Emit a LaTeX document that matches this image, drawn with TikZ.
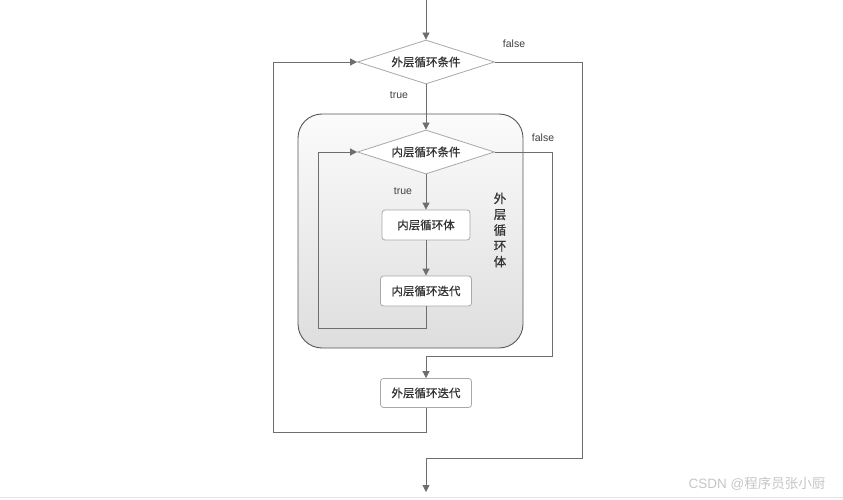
\documentclass[tikz,border=0pt]{standalone}
\usepackage{fontspec}
\setmainfont{Liberation Sans}
\newfontfamily\cjk[FakeBold=0.6]{Noto Sans CJK SC}
\newfontfamily\cjkthin{Noto Sans CJK SC}
\usetikzlibrary{shapes.geometric,arrows.meta}
\definecolor{linegray}{HTML}{6E6E6E}
\definecolor{boxgray}{HTML}{A8A8A8}
\begin{document}
\begin{tikzpicture}[x=1pt,y=-1pt,
  line/.style={draw=linegray, line width=0.8pt},
  arr/.style={line, -{Triangle[length=7pt,width=7pt]}},
  cond/.style={diamond, draw=boxgray, line width=0.8pt, fill=white, minimum width=137pt, minimum height=44pt, inner sep=0pt, aspect=3, font=\cjk\fontsize{11.5}{13}\selectfont, text=black!80},
  proc/.style={rectangle, rounded corners=3pt, draw=boxgray, line width=0.8pt, fill=white, minimum height=30pt, inner sep=0pt, font=\cjk\fontsize{11.5}{13}\selectfont, text=black!80},
  lbl/.style={font=\fontsize{10.5}{12}\selectfont, text=black!75}]
\useasboundingbox (0,0) rectangle (843,500);
\fill[white] (0,0) rectangle (843,500);

% outer loop body container
\draw[draw=linegray!80!black, line width=0.9pt, rounded corners=24pt, top color=gray!3, bottom color=gray!26] (298,114) rectangle (523,348);

\node[cond] (oc) at (426,62) {外层循环条件};
\node[cond] (ic) at (426,152) {内层循环条件};
\node[proc, minimum width=88pt] (body) at (426,225) {内层循环体};
\node[proc, minimum width=91pt] (iter) at (426,291) {内层循环迭代};
\node[proc, minimum width=91pt, minimum height=29pt] (oiter) at (426,393) {外层循环迭代};

\node[font=\cjk\fontsize{12.5}{15.8}\selectfont, align=center, text=black!80, inner sep=0pt] (vt) at (500,230) {外\\层\\循\\环\\体};

\node[lbl] (f1) at (514,44) {false};
\node[lbl] (t1) at (399,95) {true};
\node[lbl] (f2) at (543,138) {false};
\node[lbl] (t2) at (403,191) {true};

\coordinate (start) at (426,0);
\coordinate (il1) at (318,328);
\coordinate (if1) at (552,356);
\coordinate (ol1) at (273,432);
\coordinate (of1) at (582,458);
\coordinate (fin) at (426,492);

\draw[arr] (start) -- (oc.north);
\draw[arr] (oc.south) -- (ic.north);
\draw[arr] (ic.south) -- (body.north);
\draw[arr] (body.south) -- (iter.north);
\draw[arr] (iter.south) |- (il1) |- (ic.west);
\draw[arr] (ic.east) -| (if1) -| (oiter.north);
\draw[arr] (oiter.south) |- (ol1) |- (oc.west);
\draw[arr] (oc.east) -| (of1) -| (fin);

\draw[gray!20, line width=0.8pt] (0,497) -- (843,497);
\node[text=gray!45, font=\fontsize{13.5}{15}\selectfont, inner sep=0pt] (wm) at (757,484) {CSDN @{\cjkthin 程序员张小厨}};
\end{tikzpicture}
\end{document}
